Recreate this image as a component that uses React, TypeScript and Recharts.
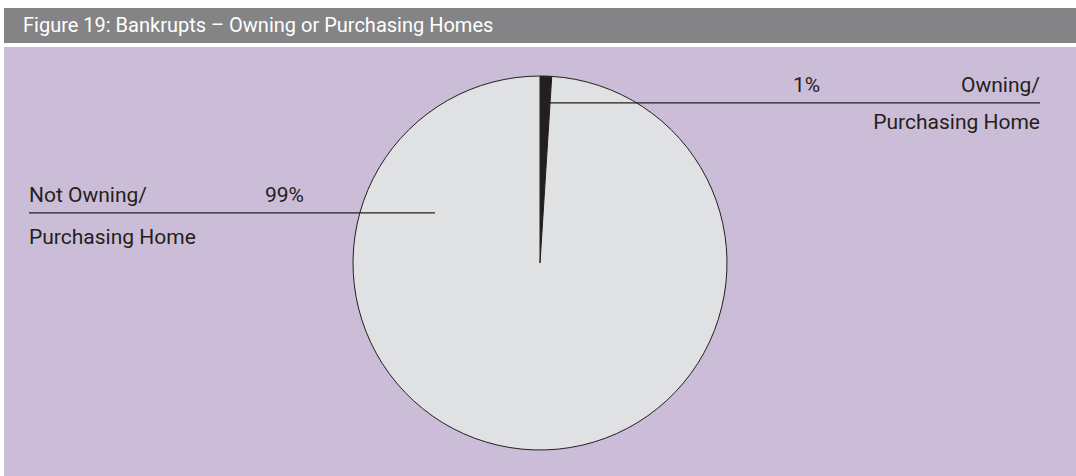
import { PieChart, Pie, Cell } from 'recharts';

const sliceNames = ['Owning/ Purchasing Home', 'Not Owning/ Purchasing Home'];
const sliceValues = [1, 99];
const sliceLabels = ['1%', '99%'];
const sliceColors = ['#231f20', '#e0e1e3'];

const pieData = sliceNames.map((name, i) => ({ name, value: sliceValues[i] }));

const ink = '#231f20';
const labelFont = 'Roboto, "DejaVu Sans", sans-serif';

function renderLabel(props: any) {
  const { cx, cy, outerRadius, index } = props;
  const r = outerRadius;
  if (index === 0) {
    // right-hand callout for the small dark wedge
    const ly = cy - r * 0.856;
    const right = cx + 500;
    return (
      <g>
        <line x1={cx + 10} y1={ly} x2={right} y2={ly} stroke={ink} strokeWidth={1.3} />
        <text x={cx + 253} y={ly - 11} fill={ink} fontSize={21} fontFamily={labelFont}>
          {sliceLabels[0]}
        </text>
        <text x={right} y={ly - 11} fill={ink} fontSize={21} fontFamily={labelFont} textAnchor="end">
          Owning/
        </text>
        <text x={right} y={ly + 26} fill={ink} fontSize={21} fontFamily={labelFont} textAnchor="end">
          Purchasing Home
        </text>
      </g>
    );
  }
  const ly = cy - r * 0.268;
  const left = cx - 511;
  return (
    <g>
      <line x1={left} y1={ly} x2={cx - 105} y2={ly} stroke={ink} strokeWidth={1.3} />
      <text x={left} y={ly - 11} fill={ink} fontSize={21} fontFamily={labelFont}>
        Not Owning/
      </text>
      <text x={cx - 275} y={ly - 11} fill={ink} fontSize={21} fontFamily={labelFont}>
        {sliceLabels[1]}
      </text>
      <text x={left} y={ly + 31} fill={ink} fontSize={21} fontFamily={labelFont}>
        Purchasing Home
      </text>
    </g>
  );
}

export default function App() {
  return (
    <div style={{ position: 'absolute', left: 0, top: 0, width: 1076, height: 476, background: '#ffffff', overflow: 'hidden' }}>
      <div
        style={{
          position: 'absolute',
          left: 4,
          top: 8,
          width: 1072,
          height: 35,
          background: '#848486',
          color: '#ffffff',
          fontFamily: labelFont,
          fontSize: 20,
          lineHeight: '35px',
          paddingLeft: 19,
          boxSizing: 'border-box',
        }}
      >
        Figure 19: Bankrupts – Owning or Purchasing Homes
      </div>
      <div style={{ position: 'absolute', left: 4, top: 47, width: 1072, height: 429, background: '#cbbdd7' }}>
        <PieChart width={1072} height={429} margin={{ top: 0, right: 0, bottom: 0, left: 0 }}>
          <Pie
            data={pieData}
            dataKey="value"
            nameKey="name"
            cx={536}
            cy={216}
            outerRadius={187}
            startAngle={90}
            endAngle={-270}
            stroke={ink}
            strokeWidth={1}
            label={renderLabel}
            labelLine={false}
            isAnimationActive={false}
          >
            {pieData.map((d, i) => (
              <Cell key={d.name} fill={sliceColors[i]} />
            ))}
          </Pie>
        </PieChart>
      </div>
    </div>
  );
}
